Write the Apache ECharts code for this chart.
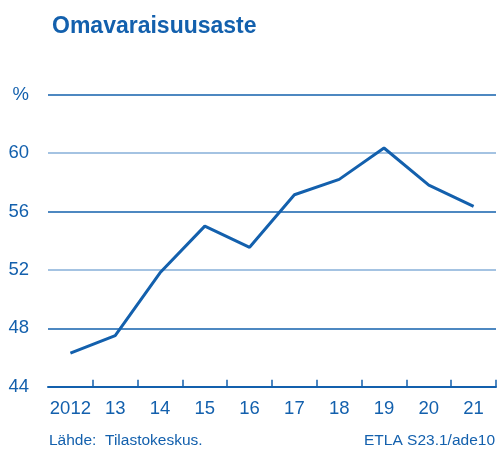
<!DOCTYPE html>
<html>
<head>
<meta charset="utf-8">
<script src="https://cdn.jsdelivr.net/npm/echarts@6/dist/echarts.min.js"></script>
<style>html,body{margin:0;padding:0;background:#fff}#c{width:498px;height:449px}</style>
</head>
<body>
<div id="c"></div>
<script>
var categories = ['2012', '13', '14', '15', '16', '17', '18', '19', '20', '21'];
var values = [46.3, 47.5, 51.8, 55.0, 53.55, 57.15, 58.2, 60.35, 57.8, 56.35];
var yMin = 44, yMax = 64, yStep = 4;
var titleText = 'Omavaraisuusaste';
var sourceLeft = 'Lähde:  Tilastokeskus.';
var sourceRight = 'ETLA S23.1/ade10';

var blue = '#1360ad';
var light = '#86afd9';
var font = 'Liberation Sans, Arial, sans-serif';

var chart = echarts.init(document.getElementById('c'), null, {renderer: 'canvas'});
chart.setOption({
  animation: false,
  title: {
    text: titleText, left: 47, top: 10,
    textStyle: {color: blue, fontSize: 23, fontWeight: 'bold', fontFamily: font}
  },
  grid: {left: 48, right: 2, top: 94.7, bottom: 62.3, containLabel: false},
  xAxis: {
    type: 'category', data: categories, boundaryGap: true,
    axisLine: {show: true, lineStyle: {color: blue, width: 2}},
    axisTick: {show: true, inside: true, length: 7, interval: function (i) { return i > 0; },
      lineStyle: {color: blue, width: 1.5}},
    axisLabel: {color: blue, fontSize: 18.5, fontFamily: font, margin: 13, interval: 0}
  },
  yAxis: {
    type: 'value', min: yMin, max: yMax, interval: yStep,
    axisLine: {show: false}, axisTick: {show: false},
    axisLabel: {color: blue, fontSize: 18.5, fontFamily: font, margin: 19,
      formatter: function (v) { return v === yMax ? '%' : String(v); }},
    splitLine: {show: true, lineStyle: {color: [blue, blue, light, blue, light, blue], width: 1.5}}
  },
  series: [{
    type: 'line', data: values, symbol: 'none',
    lineStyle: {color: blue, width: 3}
  }],
  graphic: [
    {type: 'text', left: 49, top: 433, style: {text: sourceLeft, fill: blue, font: '15.5px ' + font}},
    {type: 'text', right: 3, top: 433, style: {text: sourceRight, fill: blue, font: '15.5px ' + font}}
  ]
});
</script>
</body>
</html>
